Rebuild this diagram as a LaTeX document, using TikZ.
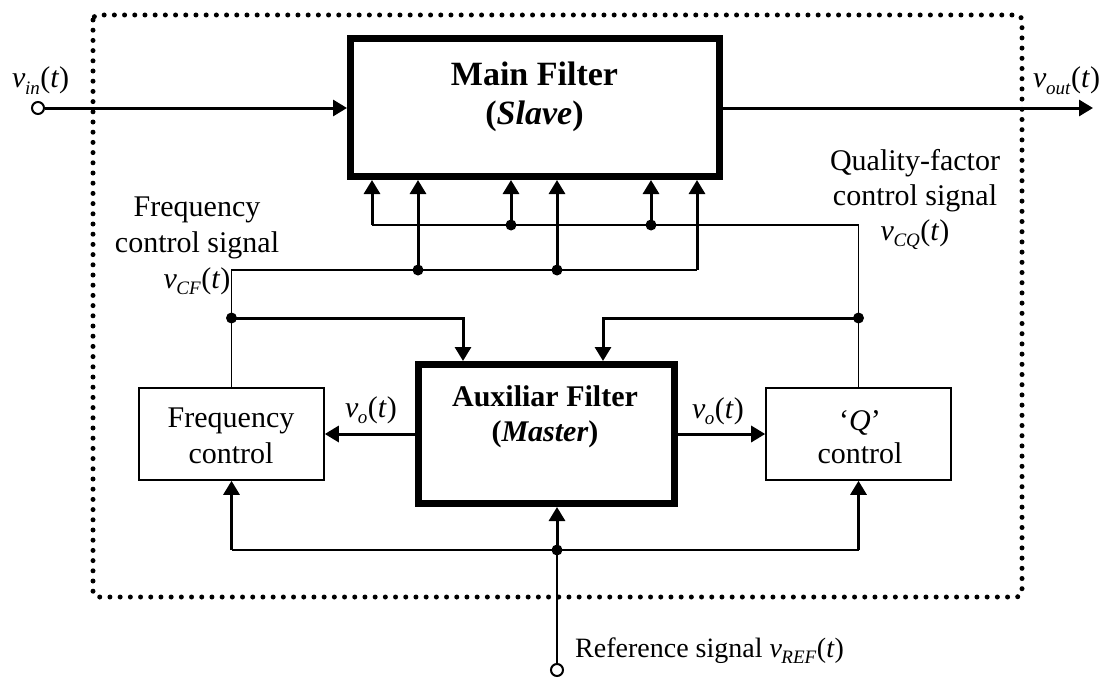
\documentclass[tikz,border=0pt]{standalone}
\usepackage{fontspec}
\setmainfont{Liberation Serif}
\usetikzlibrary{arrows.meta}

% signal name v_{sub}(t)
\newcommand\sigv[1]{\textit{v}\kern-0.5pt\raisebox{-6pt}{\fontsize{19}{19}\selectfont\textit{#1}}\kern0.5pt(\textit{t})}

\begin{document}
\begin{tikzpicture}[x=1pt,y=-1pt,
  txt/.style={font=\fontsize{30}{36}\selectfont, inner sep=0pt, anchor=base},
  reftxt/.style={font=\fontsize{28}{34}\selectfont, inner sep=0pt, anchor=base west},
  mainttl/.style={font=\fontsize{34}{40}\selectfont\bfseries, inner sep=0pt, anchor=base},
  auxttl/.style={font=\fontsize{30}{36}\selectfont\bfseries, inner sep=0pt, anchor=base},
  heavybox/.style={draw, line width=7pt, inner sep=0pt},
  lightbox/.style={draw, line width=1.6pt, inner sep=0pt, minimum width=185pt, minimum height=92pt},
  wire/.style={line width=1.6pt},
  bus/.style={line width=3pt},
  sigarrow/.style={bus, -{Triangle[width=16pt,length=14pt]}},
  junction/.style={circle, fill, inner sep=0pt, minimum size=11pt},
  port/.style={circle, draw, fill=white, line width=2pt, inner sep=0pt, minimum size=12pt},
  frame/.style={line width=5pt, dash pattern=on 0pt off 10.2pt, line cap=round, rounded corners=5pt}
]
\useasboundingbox (0,0) rectangle (1105,677);

% dotted system boundary
\draw[frame] (93,15) rectangle (1022,597);

% blocks
\node[heavybox, minimum width=369pt, minimum height=138pt] (main) at (535,107.5) {};
\node[heavybox, minimum width=256pt, minimum height=139pt] (aux) at (546.5,434) {};
\node[lightbox] (freq) at (231.5,434) {};
\node[lightbox] (qctl) at (858.5,434) {};

% block texts
\node[mainttl] (mainA) at (534.5,85) {Main Filter};
\node[mainttl] (mainB) at (534.5,124) {(\textit{Slave})};
\node[auxttl] (auxA) at (545,406) {Auxiliar Filter};
\node[auxttl] (auxB) at (545,441) {(\textit{Master})};
\node[txt] (freqA) at (231,427) {Frequency};
\node[txt] (freqB) at (231,463) {control};
\node[txt] (qA) at (860,430) {‘\textit{Q}’};
\node[txt] (qB) at (860,463) {control};

% input and output
\node[port] (vin) at (38,108) {};
\coordinate (vout) at (1093,108);
\draw[sigarrow] (vin) -- (vin -| main.west);
\draw[sigarrow] (main.east |- vout) -- (vout);
\node[txt, anchor=base west] (vinl) at (12,88) {\sigv{in}};
\node[txt, anchor=base west] (voutl) at (1033,88) {\sigv{out}};

% frequency control bus
\coordinate (fcL) at (231.5,270);
\coordinate (fcR) at (697,270);
\coordinate (fc1) at (418,270);
\coordinate (fc2) at (557,270);
\coordinate (fcA) at (231.5,318);
\coordinate (fcB) at (463,318);
\draw[wire] (freq.north) -- (fcL) -- (fcR);
\draw[sigarrow] (fcR) -- (fcR |- main.south);
\draw[sigarrow] (fc1) -- (fc1 |- main.south);
\draw[sigarrow] (fc2) -- (fc2 |- main.south);
\draw[sigarrow] (fcA) -- (fcB) -- (fcB |- aux.north);

% quality-factor control bus
\coordinate (qcR) at (858.5,225);
\coordinate (qcL) at (372,225);
\coordinate (qc1) at (511,225);
\coordinate (qc2) at (651,225);
\coordinate (qcA) at (858.5,318);
\coordinate (qcB) at (603,318);
\draw[wire] (qctl.north) -- (qcR) -- (qcL);
\draw[sigarrow] (qcL) -- (qcL |- main.south);
\draw[sigarrow] (qc1) -- (qc1 |- main.south);
\draw[sigarrow] (qc2) -- (qc2 |- main.south);
\draw[sigarrow] (qcA) -- (qcB) -- (qcB |- aux.north);

% master outputs
\draw[sigarrow] (aux.west) -- (freq.east);
\draw[sigarrow] (aux.east) -- (qctl.west);
\node[txt] (voL) at (371,417) {\sigv{o}};
\node[txt] (voR) at (718,418) {\sigv{o}};

% reference distribution
\node[port] (ref) at (557,670) {};
\coordinate (rj) at (557,550);
\coordinate (rL) at (231.5,550);
\coordinate (rR) at (858.5,550);
\draw[wire] (ref) -- (rj);
\draw[wire] (rL) -- (rR);
\draw[sigarrow] (rj) -- (rj |- aux.south);
\draw[sigarrow] (rL) -- (freq.south);
\draw[sigarrow] (rR) -- (qctl.south);
\node[reftxt] (refl) at (575,657) {Reference signal \sigv{REF}};

% junction dots
\foreach \j in {fc1,fc2,fcA,qc1,qc2,qcA,rj} \node[junction] (d\j) at (\j) {};

% control signal labels
\node[txt] (cfA) at (197,216) {Frequency};
\node[txt] (cfB) at (197,252) {control signal};
\node[txt] (cfC) at (197,288) {\sigv{CF}};
\node[txt] (cqA) at (915,170) {Quality-factor};
\node[txt] (cqB) at (915,205) {control signal};
\node[txt] (cqC) at (915,240) {\sigv{CQ}};
\end{tikzpicture}
\end{document}
